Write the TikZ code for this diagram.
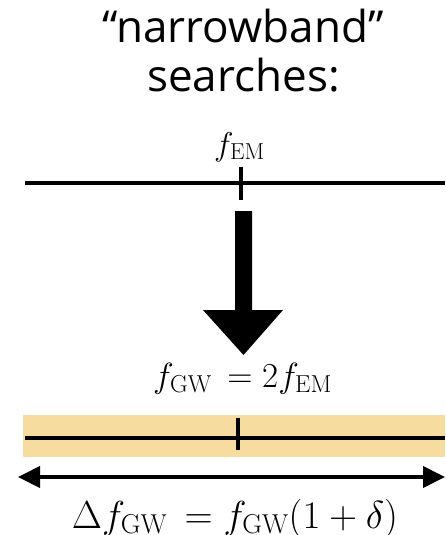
\documentclass[tikz,border=0pt]{standalone}
\usepackage{fix-cm}
\usepackage{fontspec}
\newfontfamily\titlefont{Open Sans}
\usetikzlibrary{arrows.meta}
\definecolor{band}{HTML}{F7DCA0}
\tikzset{
  axisline/.style={line width=4pt},
  ticks/.style={line width=4pt},
  titletext/.style={font=\titlefont\fontsize{44}{49}\selectfont, align=center, inner sep=0pt},
  mathlabel/.style={inner sep=0pt, anchor=base}
}
\begin{document}
\begin{tikzpicture}[x=1pt,y=-1pt]
\useasboundingbox (0,0) rectangle (445,535);
% title
\node[titletext, anchor=base] (t1) at (243,43) {“narrowband”};
\node[titletext, anchor=base] (t2) at (243.5,92) {searches:};
% top axis
\node[mathlabel, font=\fontsize{33}{38}\selectfont] (fem) at (239.5,155) {$f_{\mathrm{EM}}$};
\coordinate (a1l) at (25,183);
\coordinate (a1r) at (445,183);
\coordinate (t1top) at (241,167);
\coordinate (t1bot) at (241,200);
\draw[axisline] (a1l) -- (a1r);
\draw[ticks] (t1top) -- (t1bot);
% big arrow
\fill (235,211) -- (252,211) -- (252,310) -- (283,310) -- (243.5,355) -- (203,310) -- (235,310) -- cycle;
% f_GW label
\node[mathlabel, font=\fontsize{35}{40}\selectfont] (fgw) at (242.5,387) {$f_{\mathrm{GW}}\, = 2f_{\mathrm{EM}}$};
% band
\fill[band] (23,415) rectangle (445,457);
\coordinate (a2l) at (25,438);
\coordinate (a2r) at (445,438);
\coordinate (t2top) at (238,418);
\coordinate (t2bot) at (238,450);
\draw[axisline] (a2l) -- (a2r);
\draw[ticks] (t2top) -- (t2bot);
% double arrow
\coordinate (dl) at (18,477);
\coordinate (dr) at (445,477);
\draw[axisline, {Triangle[length=22pt,width=21pt]}-{Triangle[length=22pt,width=21pt]}] (dl) -- (dr);
% bottom label
\node[mathlabel, font=\fontsize{39}{44}\selectfont] (dfgw) at (235,528) {$\Delta f_{\mathrm{GW}}\, = f_{\mathrm{GW}}(1+\delta)$};
\end{tikzpicture}
\end{document}
